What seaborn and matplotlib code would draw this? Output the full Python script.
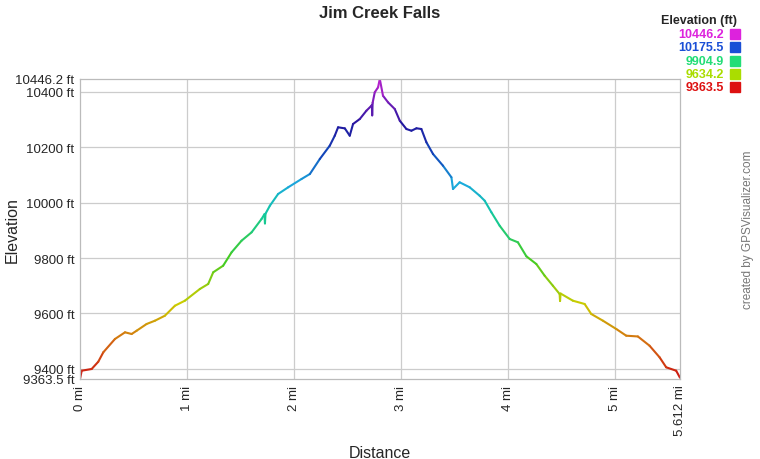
import matplotlib
matplotlib.use("Agg")
import matplotlib.pyplot as plt
import numpy as np
import pandas as pd
import seaborn as sns
from matplotlib.colors import LinearSegmentedColormap, Normalize

# elevation profile (miles, feet)
distance_mi = [
    0.000, 0.016, 0.109, 0.171, 0.218, 0.327, 0.421, 0.483, 0.530, 0.623,
    0.701, 0.794, 0.888, 0.981, 1.121, 1.199, 1.246, 1.339, 1.418, 1.511,
    1.605, 1.698, 1.725, 1.730, 1.735, 1.776, 1.853, 1.947, 2.072, 2.150,
    2.243, 2.336, 2.383, 2.414, 2.477, 2.523, 2.554, 2.617, 2.679, 2.726,
    2.730, 2.733, 2.737, 2.757, 2.788, 2.804, 2.834, 2.881, 2.944, 2.991,
    3.053, 3.100, 3.147, 3.193, 3.240, 3.302, 3.395, 3.474, 3.489, 3.551,
    3.645, 3.738, 3.785, 3.848, 3.925, 4.019, 4.096, 4.175, 4.268, 4.346,
    4.423, 4.486, 4.490, 4.495, 4.610, 4.720, 4.782, 4.891, 5.016, 5.109,
    5.218, 5.327, 5.421, 5.483, 5.576, 5.612,
]
elevation_ft = [
    9363.5, 9393.5, 9399.6, 9425.9, 9459.9, 9507.9, 9532.0, 9525.9, 9537.8, 9562.0,
    9573.9, 9591.9, 9628.0, 9646.1, 9688.3, 9706.4, 9748.6, 9772.4, 9820.8, 9862.6,
    9892.9, 9940.9, 9958.0, 9925.0, 9960.0, 9988.9, 10031.2, 10055.3, 10085.3, 10103.3,
    10157.5, 10205.5, 10241.6, 10271.9, 10268.0, 10241.6, 10283.8, 10301.8, 10331.8, 10349.8,
    10352.0, 10315.0, 10360.0, 10398.2, 10416.2, 10446.2, 10385.9, 10362.1, 10337.9, 10295.7,
    10265.7, 10259.6, 10268.3, 10265.7, 10217.8, 10175.5, 10133.3, 10091.4, 10049.2, 10073.4,
    10055.3, 10025.0, 10007.0, 9965.1, 9916.8, 9868.8, 9856.8, 9806.3, 9778.5, 9736.3,
    9700.2, 9670.3, 9645.0, 9672.0, 9646.1, 9634.2, 9598.1, 9573.9, 9543.9, 9519.8,
    9517.0, 9483.7, 9441.8, 9405.7, 9393.5, 9368.0,
]

x_ticks = [0, 1, 2, 3, 4, 5, 5.612]
x_tick_labels = ["0 mi", "1 mi", "2 mi", "3 mi", "4 mi", "5 mi", "5.612 mi"]
y_ticks = [9363.5, 9400, 9600, 9800, 10000, 10200, 10400, 10446.2]
y_tick_labels = ["9363.5 ft", "9400 ft", "9600 ft", "9800 ft", "10000 ft",
                 "10200 ft", "10400 ft", "10446.2 ft"]

legend_values = ["10446.2", "10175.5", "9904.9", "9634.2", "9363.5"]
legend_colors = ["#dd22dd", "#1a4fd6", "#22dd77", "#aadd00", "#dd1111"]

elev_min, elev_max = 9363.5, 10446.2

cmap = LinearSegmentedColormap.from_list(
    "gpsv",
    [(0.00, "#cc1111"), (0.12, "#d46a12"), (0.25, "#cccc00"), (0.40, "#44cc22"),
     (0.55, "#11c9a0"), (0.65, "#1aaadd"), (0.75, "#1148bb"), (0.85, "#22169e"),
     (1.00, "#c022d0")],
)

# one 2-point segment per step so seaborn can colour by elevation
rows = []
for i in range(len(distance_mi) - 1):
    mid = (elevation_ft[i] + elevation_ft[i + 1]) / 2
    for j in (i, i + 1):
        rows.append({"seg": i, "dist": distance_mi[j], "elev": elevation_ft[j], "c": mid})
df = pd.DataFrame(rows)

sns.set_style("white")
plt.rcParams["font.family"] = ["Liberation Sans", "DejaVu Sans"]

fig = plt.figure(figsize=(7.6, 4.6), dpi=100)
ax = fig.add_axes([80 / 760, 1 - 380 / 460, 600 / 760, 300 / 460])

sns.lineplot(
    data=df, x="dist", y="elev", hue="c", units="seg", estimator=None,
    palette=cmap, hue_norm=Normalize(elev_min, elev_max), legend=False,
    linewidth=1.5, ax=ax,
)

ax.set_xlim(0, 5.612)
ax.set_ylim(elev_min, elev_max)
ax.set_xticks(x_ticks)
ax.set_xticklabels(x_tick_labels, rotation=90, fontsize=9.5)
ax.set_yticks(y_ticks)
ax.set_yticklabels(y_tick_labels, fontsize=9.5)
ax.tick_params(length=0, pad=4)
for v in [1, 2, 3, 4, 5]:
    ax.axvline(v, color="#cccccc", lw=0.9, zorder=0)
for v in [9400, 9600, 9800, 10000, 10200, 10400]:
    ax.axhline(v, color="#cccccc", lw=0.9, zorder=0)
for s in ax.spines.values():
    s.set_color("#bbbbbb")
    s.set_linewidth(0.9)

ax.set_xlabel("Distance", fontsize=11.5)
ax.set_ylabel("Elevation", fontsize=11.5)
ax.xaxis.set_label_coords(0.5, -0.22)
ax.yaxis.set_label_coords(-0.1, 0.5)

fig.text(380 / 760, 1 - 14 / 460, "Jim Creek Falls", ha="center", va="center",
         fontsize=12, fontweight="bold")

fig.text(748 / 760, 1 - 230 / 460, "created by GPSVisualizer.com", rotation=90,
         ha="center", va="center", fontsize=8.5, color="#777777")

fig.text(737 / 760, 1 - 21 / 460, "Elevation (ft)", ha="right", va="center",
         fontsize=9, fontweight="bold")
for k, (lab, col) in enumerate(zip(legend_values, legend_colors)):
    yy = 35 + k * 13.3
    fig.text(724 / 760, 1 - yy / 460, lab, ha="right", va="center",
             fontsize=9, fontweight="bold", color=col)
    fig.patches.append(plt.Rectangle((730 / 760, 1 - (yy + 5) / 460), 10 / 760, 10 / 460,
                                     transform=fig.transFigure, color=col, figure=fig))

fig.savefig("out.png", dpi=100)
